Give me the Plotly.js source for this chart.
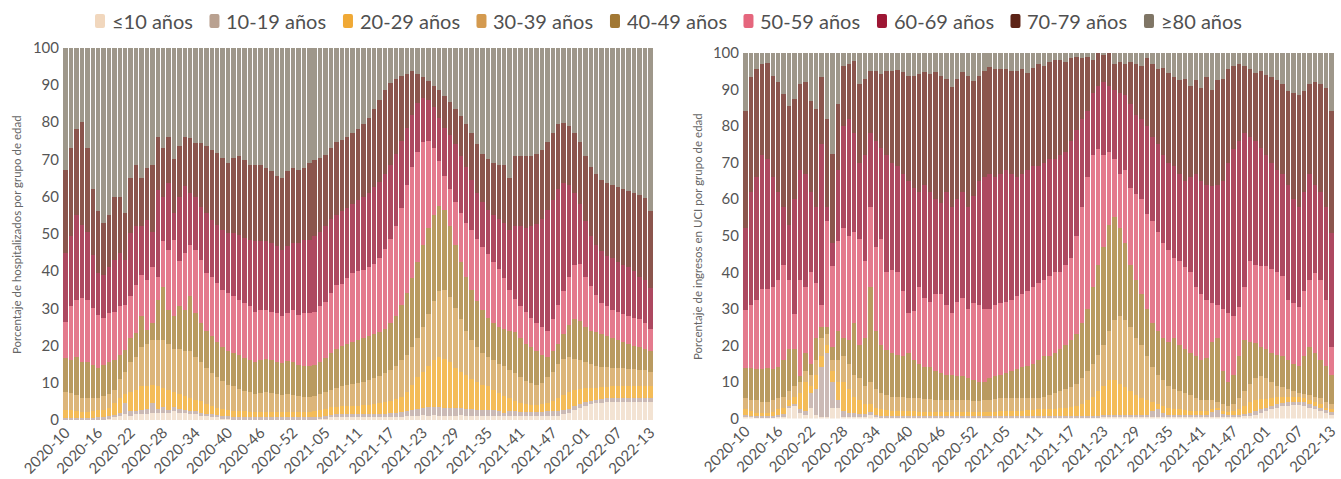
<!DOCTYPE html>
<html>
<head>
<meta charset="utf-8">
<script src="https://cdn.plot.ly/plotly-3.0.1.min.js"></script>
<style>html,body{margin:0;padding:0;background:#fff;}#chart{width:1341px;height:479px;}</style>
</head>
<body>
<div id="chart"></div>
<script>
// ---------------- categories ----------------
const ageGroups = ['\u226410 años','10-19 años','20-29 años','30-39 años','40-49 años','50-59 años','60-69 años','70-79 años','\u226580 años'];
const tickLabels = ['2020-10','2020-16','2020-22','2020-28','2020-34','2020-40','2020-46','2020-52','2021-05','2021-11','2021-17','2021-23','2021-29','2021-35','2021-41','2021-47','2022-01','2022-07','2022-13'];
// epidemiological weeks 2020-10 .. 2022-13 (2020 has 53 weeks)
const weeks = [];
function pad(n){return (n<10?'0':'')+n;}
for (let w=10; w<=53; w++) weeks.push('2020-'+pad(w));
for (let w=1; w<=52; w++) weeks.push('2021-'+pad(w));
for (let w=1; w<=13; w++) weeks.push('2022-'+pad(w));

// ---------------- data: hospitalizados (read as the upper edge of each band, cumulative %) ----------------
const hospCum10 = [0.3,0.3,0.3,0.2,0.2,0.3,0.3,0.4,0.5,0.7,1,
 1.5,1.2,1.5,1.5,1.5,2,1.8,2,1.8,2.5,
 2,1.8,1.5,1.5,1.2,1,0.8,0.7,0.6,0.5,
 0.4,0.4,0.4,0.4,0.4,0.4,0.4,0.4,0.4,0.4,
 0.4,0.4,0.4,0.4,0.4,0.4,0.5,0.5,0.7,0.7,
 0.7,0.7,0.7,0.7,0.7,0.7,0.7,0.7,0.7,0.7,
 0.7,0.7,1.2,1.1,1.2,1.3,1.2,1.3,1.2,1.2,
 1.1,1.2,1.3,1.2,1.2,1.1,1.2,1.2,1.1,1.2,
 1.1,1.1,1.1,1.1,1.1,1.1,1.1,1.1,1.1,1.1,
 1.1,1.5,2,2.7,3.3,3.8,4.2,4.5,4.6,4.7,
 4.8,4.8,4.9,4.9,4.9,4.8,4.8,4.7];
const hospCum19 = [0.6,0.6,0.5,0.5,0.5,0.6,0.7,0.8,1,1.3,1.8,
 4.5,2.5,2.5,2.8,3,4.5,3,3.5,2.8,3.5,
 3,2.8,2.5,2.3,2,1.7,1.5,1.3,1.1,1,
 0.9,0.9,0.8,0.8,0.8,0.8,0.8,0.8,0.8,0.8,
 0.8,0.8,0.8,0.8,0.8,0.8,0.9,1,1.4,1.5,
 1.5,1.6,1.5,1.5,1.6,1.6,1.5,1.6,1.7,1.8,
 1.9,2.1,2.4,2.7,3,3.2,3.4,3.5,3.4,3.3,
 3.3,3.2,3.1,3,2.9,2.8,2.8,2.7,2.6,2.5,
 1.8,2.3,2.3,2.2,2.2,2.2,2.2,2.2,2.3,2.3,
 2.4,2.6,3,3.8,4.3,4.8,5.2,5.5,5.7,5.8,
 5.9,5.9,6,6,6,5.9,5.9,5.8];
const hospCum29 = [2.8,2.8,2.5,2.2,2.2,2.4,2.6,2.8,3.2,4.5,6,
 7,7.5,8,9,9,9.5,9,8.5,8,7.5,
 7,6.5,6,5.5,5,4.2,3.8,3.3,3,2.7,
 2.5,2.4,2.3,2.2,2.2,2.2,2.2,2.2,2.2,2.2,
 2.2,2.2,2.2,2.2,2.2,2.3,2.6,3,3.5,3.6,
 3.7,3.8,3.8,3.8,3.9,4,4.2,4.5,4.8,5.2,
 5.6,6.3,7.5,9.5,11.5,13,14.5,16,16.8,16.5,
 15.5,14,13,12,11,10.2,9.5,9,8,7.2,
 6.5,6,5,4.5,4.2,4,4,4.2,4.5,5.2,
 6,6.8,7.5,8.1,8.3,8.5,8.6,8.7,8.8,8.9,
 9,9,9,9,9,9.1,9,9];
const hospCum39 = [7.4,7.2,6.8,5.8,5.8,5.8,6,6.5,7,8,11,
 13,15.5,17,19.5,20.5,21.5,21.5,21.5,20.5,19,
 19,18.5,18.5,17,15.5,14,12.5,11.5,10.5,9.5,
 9,8.3,7.8,7.4,7,7.2,7.4,7.2,7,6.8,
 7,6.8,6.4,6.2,6.2,6.5,7,7.5,8,8.5,
 9,9.3,9.6,10,10.3,10.7,11.2,11.8,12.5,13.3,
 14.5,16,17.5,19.5,22,25,28.5,32,34.5,35,
 33,30,27,24,21.5,19.5,18,17,16,15,
 14.5,13.5,12.5,11.5,10.5,10,9.5,10,11.5,13,
 15,16.5,17,16.5,16,15.5,15,14.5,14.3,14.2,
 14,14,14,13.8,13.7,13.5,13.3,13];
const hospCum49 = [16.6,16.1,17,15.7,15.7,14.8,13.9,14.8,15.7,16.1,17.5,
 18.8,22,23.3,27.8,24.2,26,32.3,35.8,29.6,27.8,
 30.5,29.6,33.2,28.7,26,24,22.5,21,19.7,18.5,
 18,17.5,16.6,16.1,15.7,16.1,16.3,16,15.5,15.2,
 15.8,15.5,14.8,14.6,14.6,14.8,15.5,16.6,18,19,
 20,20.5,21,21.5,22,22.5,23,23.5,24.5,26,
 28,31,34,38,42.5,47,51.5,55,57.5,56.5,
 52,47,42.5,38.5,35,32,29.5,27.5,26,25,
 24.5,24,23.5,22,20.5,19.5,18.5,17.5,17,18.5,
 20.5,23,25.5,27,26.5,25,24,23.5,23,22.5,
 22,21.5,21,20.5,20,19.5,19,18.5];
const hospCum59 = [26.4,30.5,32.3,32.7,32.3,30,28.2,27.3,28.7,29.1,30.5,
 30.9,33.2,36.3,39,37.6,41.2,38.5,48,45.7,48.4,
 42.6,44.8,47,45.7,43,39.4,38.5,36.7,34.9,34,
 33.2,32.3,31.4,30.5,29.1,29.6,29.6,29.1,28.7,27.8,
 28.7,29.6,28.2,28.7,28.7,29.1,30.5,31.8,34,36.3,
 36.5,38,39.5,40,40.3,41,42,43.5,46,48.5,
 52,57,63,68,72,74.5,75,73,69.5,65.5,
 62,58.5,55.5,53,51,48.5,46.5,44.5,42.5,40.5,
 38,35,32.5,30.5,29,27.5,26,25,24,27,
 31,34.5,38.5,41.5,42,38.5,36,33.5,31.5,30.5,
 29.5,29,28.5,28,27.5,27,26,24.5];
const hospCum69 = [44.8,49.3,55,52.4,50.6,44.4,39.4,39,41.2,43,44.8,
 43,50.2,52,52,53.8,50.6,61.8,60,63.6,55.6,
 60,62.7,61,60,57.3,55.6,53.8,52.4,51,50.2,
 50.2,49.7,48.8,48.4,48,48,48,47.5,46.6,45.7,
 46.6,47.5,47.5,48.4,48.4,49.3,50.6,52,54,55,
 56,57,58,59,60,61,62.5,64,66,68.5,
 71.5,75,78.5,82,85,86.5,86,84,81,78.5,
 76.5,74,71,68,64.5,61,58.5,56.5,55,54,
 53,51,52,52,51.5,52,52.5,54,56.5,59,
 62,63.5,63,61,58,53.5,49.5,47,45.5,44,
 43.5,42.5,41.5,41,40,38.5,37.5,35.5];
const hospCum79 = [67.2,73,78,80,73,62,56,53,55,60,60,
 55.5,65,68.5,65,67.6,68.5,76,73,76,70,
 73.5,76,75.7,74.4,74.4,73.5,72.6,71.7,70.3,69,
 70.3,70.8,69.9,68.5,68.5,68.5,67.7,66.8,65.4,65,
 66.8,67.7,67.2,67.7,69,69.9,70.3,71.2,73,74.5,
 75.3,76,77,78,79.5,81,83.5,86,88.5,90.5,
 91.5,92.3,92.8,93.6,93,92,91,89.8,88.5,87,
 85.5,83.5,81.5,79.5,77,74,71.5,70,69,68.5,
 68.5,65,70.8,70.8,70.8,71,71.3,72.5,74.5,77,
 79.5,79.8,79,77,74.5,71,68,66,64.5,63.5,
 63,62.5,62,61.5,61,60.5,59.5,56];

// ---------------- data: ingresos en UCI (cumulative %) ----------------
const icuCum10 = [0.5,0.5,0.3,0.3,0.3,0.3,0.5,0.5,3,3.5,1.5,
 1,3,1,0.5,0.5,3,3,0.5,0.5,0.5,
 0.5,0.5,1,0.5,0.4,0.3,0.3,0.3,0.3,0.3,
 0.3,0.3,0.3,0.3,0.3,0.3,0.3,0.3,0.3,0.3,
 0.3,0.3,0.3,0.3,0.3,0.3,0.3,0.3,0.3,0.3,
 0.3,0.3,0.3,0.3,0.3,0.3,0.3,0.3,0.3,0.3,
 0.3,0.4,0.4,0.4,0.4,0.5,0.5,0.5,0.5,0.5,
 0.5,0.5,0.5,0.5,0.5,0.5,0.5,0.5,0.5,0.5,
 0.5,0.5,0.5,0.5,0.5,0.5,0.5,0.5,0.5,0.5,
 0.5,0.6,0.8,1,1.5,2,2.5,3,3.3,3.5,
 3.6,3.6,3.4,3,2.5,2,1.5,1];
const icuCum19 = [1,0.8,0.6,0.6,0.6,0.6,1,1.2,3.5,4,2.5,
 2,7,8,14,18,10,5,2,1.5,1.5,
 1.2,1.2,1.8,1,0.8,0.6,0.6,0.6,0.6,0.6,
 0.6,0.6,0.6,0.6,0.6,0.6,0.6,0.6,0.6,0.6,
 0.6,0.6,0.6,0.6,0.6,0.6,0.6,0.6,0.6,0.6,
 0.6,0.6,0.6,0.6,0.6,0.6,0.6,0.6,0.6,0.6,
 0.6,0.8,0.8,0.8,0.8,1,1,1,1,1,
 1,1,1,1,2,2.5,1.5,1,1,1,
 1,1,1,1,1,2,2.5,1.5,1,1,
 1,1.2,1.5,2,2.5,3,3.5,4,4.3,4.5,
 4.6,4.6,4.4,4,3.5,3,2.5,2];
const icuCum29 = [2.5,2,1.5,1.5,1.5,1.8,2.5,3,5,6,7,
 10,9,12,17,20,13,10,10,8,6,
 5,4,4,3,2.5,2.2,2,2,2,2,
 2,1.8,1.8,1.8,1.8,1.8,1.8,1.8,1.8,1.8,
 1.8,1.8,1.8,1.8,1.8,1.8,2,2,2,2,
 2,2.2,2.2,2.5,2.5,2.5,2.7,2.8,3,3.2,
 3.5,4,5,6,7.5,9,10.5,10.5,9.5,8.5,
 7.5,6.5,5.5,5,4.5,4,3.5,3,2.5,2.5,
 2.2,2,2,2,2,2.5,3,2,1.8,2,
 2.5,3.5,4.5,5,5.2,5.2,5.5,5.8,6,6,
 6,5.8,5.5,5,4.5,4,3,2.5];
const icuCum39 = [5.5,5,5,4.5,4.5,5,5.5,6,7.5,9,10,
 13,12,16,22,23,16,16,17,15,12,
 11,9,10,8,7,6.5,6,6,6,5.5,
 5.5,5.5,5.2,5.2,5,5,5,5,5,5,
 5,4.8,4.8,5,5,5.2,5.5,5.5,5.5,5.5,
 5.5,5.5,5.5,5.5,6,6.5,7,7.5,8,8.5,
 9.5,11,13,15,17.5,20,24,27,28,27,
 25,22,20,17,14,12,10.5,9,8,7.5,
 7,6.5,5.5,5,5,5,4.5,4,3.5,4,
 5.5,7.5,9.5,11,11.5,11,10,9,8.5,8,
 7.5,7,6.8,6.5,6,5.5,4.5,4];
const icuCum49 = [13.8,13.8,13.5,13.5,13.8,13.5,14,16,19,19,11.5,
 18,15,22,25,25,19.7,24,22,21.5,26,
 20,22,36,24,20,18.8,18,17.5,17,18,
 16,15,14,14,13,12.5,12,12,11.5,11.5,
 11,10.5,10,10,11,11.5,12,12.5,13,13.5,
 14,14.5,15,16,17,17,18,19,20,21.5,
 23,26,30,36,42,47,53,55,52,48,
 42,38,34,30,26,24,22,21,22,20,
 19,18,17,16,16.5,21,22,13,10,12,
 17,21.5,21,20.6,19.7,19,18,17.5,17,16,
 15,14.3,17,19.7,18,16,14.3,12];
const icuCum59 = [29.7,31,32.5,35.5,35.5,36,38,42,38,28.5,38,
 36,40,37,31,54,41.6,48.5,52,50,51,
 49,43,58,47,49,40,40.5,40,35,29,
 29.5,36,33,32,34,34,31,29,32,33,
 30,31.5,31,30,30,31,31.6,32,32.5,33.4,
 34,35,36,37,38,39,40,40,42,44,
 50,58,66,72,73.6,72,73,71,67,68,
 63,61.5,60,56,54,51,48,46,44,43,
 41.5,40,36,34,32.5,31.6,31,30,29,28,
 30.6,36,43,42,41.6,41.6,41,40,39,32.5,
 31.5,30.6,35,38,39.8,38,32.5,19.7];
const icuCum69 = [52,62,66,72,71,66,62,58,53,60,68,
 67,62,58,75,58,48,68,80,82,78,
 70,72,78,76,74,72,70,69,67,65,
 63,62,64,62,60,59,62,58,60,62,
 58,61,65,66,67,66,67,68,67,66,
 67,68,69,69,70,71,71,72,73,76,
 79,82,84,89,91,92,91,90,89,88.5,
 86,83,82,80,77,75,72,70,69,67,
 65,66,67,65,64,63.5,64,65,70,73.6,
 76,78,77,76,74,72,70,68,67,64,
 60,58,62,67,64,62,58,50.8];
const icuCum79 = [84.2,93.3,95.6,97,97.3,93.8,92,88.7,85.5,87.4,91.5,
 92,86.9,84.6,93.3,81.9,72.3,86,96.5,97,97.9,
 91.5,92.9,95.2,95.2,94.2,95.2,95.2,95.4,94.7,93.8,
 93.8,94.2,94.7,94.2,94.7,93.8,92.9,90.6,92.9,94.7,
 93.8,92.4,93.8,95.2,96.1,95.6,95.6,95.6,95.2,95,
 95.5,94.5,96,97,96.5,97.5,98,98,97.5,98.5,
 99,98.5,99,98,100,99.5,100,97,97.5,97,
 97.5,97,96.5,98.5,97,95.5,96,94.5,93.5,92.5,
 93,91,92.5,90.5,93.5,90,92.5,93,95.5,96.5,
 97,96.5,95.5,94.5,95,94,93.5,92.5,91.5,89.5,
 89,88.5,89.5,91.5,92,91.5,90.5,84];

// ---------------- styles ----------------
const barColors = ['#f3e3d3','#cbbab5','#f4bc58','#dcb57a','#b99a60','#e47a8d','#ad4860','#8b554d','#9e978a'];
const legendColors = ['#f1d7bd','#b9a190','#f0a935','#d49a4f','#a27834','#e5667d','#9d1634','#5c2316','#7f7565'];

// share of each age group = difference between consecutive band edges
function toShares(cums){
  const out = [];
  for (let k=0; k<=cums.length; k++){
    const upper = k < cums.length ? cums[k] : null;
    const lower = k > 0 ? cums[k-1] : null;
    out.push(weeks.map((_,i)=>{
      const u = upper ? upper[i] : 100;
      const l = lower ? lower[i] : 0;
      return Math.round((u-l)*10)/10;
    }));
  }
  return out;
}
const hospShares = toShares([hospCum10,hospCum19,hospCum29,hospCum39,hospCum49,hospCum59,hospCum69,hospCum79]);
const icuShares  = toShares([icuCum10,icuCum19,icuCum29,icuCum39,icuCum49,icuCum59,icuCum69,icuCum79]);

const traces = [];
ageGroups.forEach((g,k)=>{
  traces.push({type:'bar', x:weeks, y:hospShares[k], name:g, xaxis:'x', yaxis:'y',
    marker:{color:barColors[k], line:{width:0}}, showlegend:false,
    hovertemplate:'%{x}<br>'+g+': %{y:.1f}%<extra></extra>'});
});
ageGroups.forEach((g,k)=>{
  traces.push({type:'bar', x:weeks, y:icuShares[k], name:g, xaxis:'x2', yaxis:'y2',
    marker:{color:barColors[k], line:{width:0}}, showlegend:false,
    hovertemplate:'%{x}<br>'+g+': %{y:.1f}%<extra></extra>'});
});

const W = 1341, H = 479;
const FONT = 'Lato, "Open Sans", sans-serif';

// ---------------- manual legend (positions only) ----------------
const annotations = [];
const shapes = [];
(function(){
  const ctx = document.createElement('canvas').getContext('2d');
  ctx.font = '20px Lato';
  const widths = ageGroups.map(t=>ctx.measureText(t).width);
  const mW = 10, mH = 14, mGap = 5, left = 95, span = 1145, cy = 21;
  const sum = widths.reduce((a,b)=>a+b,0) + ageGroups.length*(mW+mGap);
  const gap = (span - sum)/(ageGroups.length-1);
  let x = left;
  ageGroups.forEach((g,k)=>{
    const x0 = x/W, x1 = (x+mW)/W, y0 = (H-(cy+mH/2))/H, y1 = (H-(cy-mH/2))/H;
    const rx = 2/W, ry = 2/H;
    shapes.push({type:'path', xref:'paper', yref:'paper', line:{width:0}, fillcolor:legendColors[k],
      path:`M ${x0+rx},${y0} L ${x1-rx},${y0} Q ${x1},${y0} ${x1},${y0+ry} L ${x1},${y1-ry} Q ${x1},${y1} ${x1-rx},${y1} L ${x0+rx},${y1} Q ${x0},${y1} ${x0},${y1-ry} L ${x0},${y0+ry} Q ${x0},${y0} ${x0+rx},${y0} Z`});
    annotations.push({xref:'paper', yref:'paper', x:(x+mW+mGap)/W, y:(H-cy)/H, xanchor:'left', yanchor:'middle',
      text:g, showarrow:false, font:{family:FONT, size:20, color:'#505050'}});
    x += mW + mGap + widths[k] + gap;
  });
})();

// y-axis titles
annotations.push({xref:'paper', yref:'paper', x:17/W, y:(H-235)/H, xanchor:'center', yanchor:'middle', textangle:-90,
  text:'Porcentaje de hospitalizados por grupo de edad', showarrow:false, font:{family:FONT, size:11.5, color:'#666'}});
annotations.push({xref:'paper', yref:'paper', x:697/W, y:(H-237)/H, xanchor:'center', yanchor:'middle', textangle:-90,
  text:'Porcentaje de ingresos en UCI por grupo de edad', showarrow:false, font:{family:FONT, size:11.5, color:'#666'}});

const xBase = {type:'category', tickmode:'array', tickvals:tickLabels, ticktext:tickLabels, tickangle:-45,
  tickfont:{family:FONT, size:15, color:'#555'}, showgrid:false, zeroline:false, showline:false, ticks:'',
  range:[-0.5, weeks.length-0.5], fixedrange:true};
const yBase = {range:[0,100], tick0:0, dtick:10, tickfont:{family:FONT, size:15, color:'#555'},
  showgrid:false, zeroline:false, showline:false, ticks:'', ticklabelstandoff:3, fixedrange:true};

const layout = {
  width:W, height:H, margin:{l:0,r:0,t:0,b:0},
  paper_bgcolor:'#ffffff', plot_bgcolor:'#ffffff',
  barmode:'stack', bargap:0.18, showlegend:false,
  font:{family:FONT, color:'#555'},
  xaxis:Object.assign({}, xBase, {domain:[63/W, 653/W], anchor:'y'}),
  yaxis:Object.assign({}, yBase, {domain:[(H-420)/H, (H-47.5)/H], anchor:'x'}),
  xaxis2:Object.assign({}, xBase, {domain:[743/W, 1334/W], anchor:'y2'}),
  yaxis2:Object.assign({}, yBase, {domain:[(H-418.5)/H, (H-53)/H], anchor:'x2'}),
  annotations:annotations, shapes:shapes
};

Plotly.newPlot('chart', traces, layout, {displayModeBar:false, staticPlot:false});
</script>
</body>
</html>
